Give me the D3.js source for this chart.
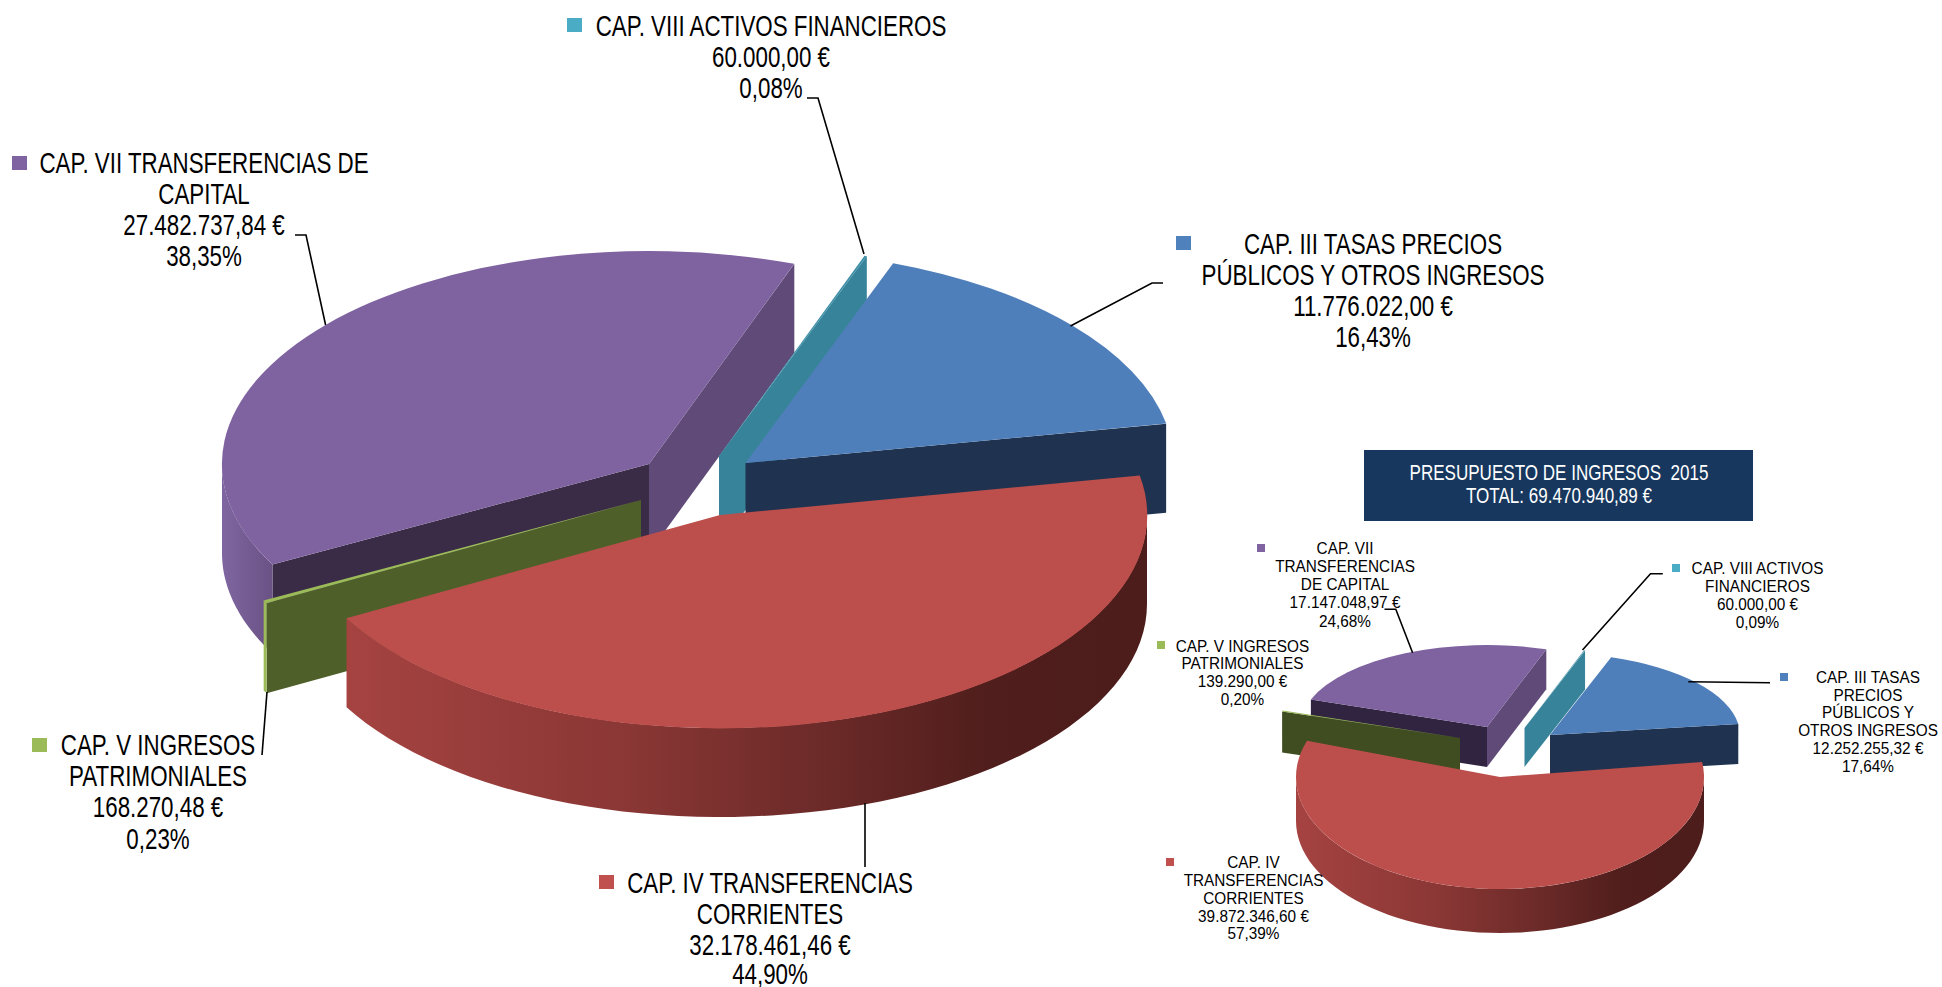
<!DOCTYPE html>
<html>
<head>
<meta charset="utf-8">
<script src="https://cdn.jsdelivr.net/npm/d3@7"></script>
<style>
  body { margin: 0; background: #fff; }
  svg { display: block; }
  text { font-family: "Liberation Sans", Arial, sans-serif; white-space: pre; }
</style>
</head>
<body>
<div id="chart"></div>
<script>
// data, in pie order (clockwise)
var chapters = ["III", "IV", "V", "VII", "VIII"];
var bigValues = [11776022.00, 32178461.46, 168270.48, 27482737.84, 60000.00];
var smallValues = [12252255.32, 39872346.60, 139290.00, 17147048.97, 60000.00];
var titleText = "PRESUPUESTO DE INGRESOS  2015";

// category text as wrapped in each of the two charts
var bigNames = [
  ["CAP. III TASAS PRECIOS", "PÚBLICOS Y OTROS INGRESOS"],
  ["CAP. IV TRANSFERENCIAS", "CORRIENTES"],
  ["CAP. V INGRESOS", "PATRIMONIALES"],
  ["CAP. VII TRANSFERENCIAS DE", "CAPITAL"],
  ["CAP. VIII ACTIVOS FINANCIEROS"]
];
var smallNames = [
  ["CAP. III TASAS", "PRECIOS", "PÚBLICOS Y", "OTROS INGRESOS"],
  ["CAP. IV", "TRANSFERENCIAS", "CORRIENTES"],
  ["CAP. V INGRESOS", "PATRIMONIALES"],
  ["CAP. VII", "TRANSFERENCIAS", "DE CAPITAL"],
  ["CAP. VIII ACTIVOS", "FINANCIEROS"]
];

// colours per chapter
var topColor = ["#4f7fba", "#bc4f4c", "#9bbb59", "#7f62a0", "#3f90a8"];
var markerColor = ["#4f81bd", "#c0504d", "#9bbb59", "#8064a2", "#4bacc6"];

var width = 1942, height = 987;
var svg = d3.select("#chart").append("svg")
  .attr("width", width)
  .attr("height", height);
var defs = svg.append("defs");

// spanish number format
var es = d3.formatLocale({decimal: ",", thousands: ".", grouping: [3], currency: ["", "€"]});
var money = es.format(",.2f");

function addGradient(id, stops) {
  var g = defs.append("linearGradient").attr("id", id);
  stops.forEach(function(s) {
    g.append("stop").attr("offset", s[0]).attr("stop-color", s[1]);
  });
}
addGradient("redWall", [[0, "#a54341"], [0.35, "#8a3735"], [0.6, "#6b2a28"], [0.8, "#501e1c"], [1, "#4c1d1b"]]);
addGradient("purpleWall", [[0, "#7f66a0"], [1, "#6a5285"]]);

// draw one pie out of exploded slices; each slice has its own ellipse
function drawPie(values, startDeg, shape, style) {
  var pie = d3.pie().sort(null).value(function(d) { return d; })
    .startAngle(startDeg * Math.PI / 180)
    .endAngle((startDeg + 360) * Math.PI / 180);
  var arcs = pie(values);
  var g = svg.append("g");
  var line = d3.line();

  // paint back to front: VII, V, VIII, III, IV
  [3, 2, 4, 0, 1].forEach(function(i) {
    var a = arcs[i], s = shape[i];
    var px = function(t) { return s.cx + s.rx * Math.sin(t); };
    var py = function(t) { return s.cy - s.ry * Math.cos(t); };

    // flat wall on a cut edge
    function wall(t, color) {
      if (!color) return;
      g.append("path")
        .attr("d", line([[s.cx, s.cy], [px(t), py(t)], [px(t), py(t) + s.depth], [s.cx, s.cy + s.depth]]) + "Z")
        .attr("fill", color);
    }
    wall(a.endAngle, style.endWall[i]);
    wall(a.startAngle, style.startWall[i]);

    // outer wall: only the front half of the ellipse can be seen
    [[Math.PI / 2, 3 * Math.PI / 2], [5 * Math.PI / 2, 7 * Math.PI / 2]].forEach(function(front) {
      var t0 = Math.max(a.startAngle, front[0]), t1 = Math.min(a.endAngle, front[1]);
      if (t1 <= t0) return;
      var ts = d3.range(0, 61).map(function(k) { return t0 + (t1 - t0) * k / 60; });
      var upper = ts.map(function(t) { return [px(t), py(t)]; });
      var lower = ts.slice().reverse().map(function(t) { return [px(t), py(t) + s.depth]; });
      g.append("path")
        .attr("d", line(upper.concat(lower)) + "Z")
        .attr("fill", style.outerWall[i]);
    });

    // top surface
    g.append("path")
      .attr("transform", "translate(" + s.cx + "," + s.cy + ") scale(" + s.rx + "," + s.ry + ")")
      .attr("d", d3.arc().innerRadius(0).outerRadius(1)(a))
      .attr("fill", topColor[i]);
  });
}

var navy = "#1f3350";
drawPie(bigValues, 20.2, [
  {cx: 745.5, cy: 463, rx: 428, ry: 213, depth: 89},
  {cx: 720, cy: 515, rx: 427, ry: 213, depth: 89},
  {cx: 641, cy: 500, rx: 428, ry: 213, depth: 90},
  {cx: 649, cy: 464, rx: 427, ry: 213, depth: 89},
  {cx: 719, cy: 456, rx: 428, ry: 213, depth: 90}
], {
  startWall: [null, null, "#4f5f2a", "#3a2b47", null],
  endWall: [navy, null, null, "#5f4a78", "#37849a"],
  outerWall: [navy, "url(#redWall)", "#9bbb59", "url(#purpleWall)", "#37849a"]
});

drawPie(smallValues, 18.8, [
  {cx: 1550, cy: 735, rx: 190, ry: 82, depth: 40},
  {cx: 1500, cy: 777, rx: 204, ry: 112, depth: 44},
  {cx: 1460, cy: 738, rx: 188, ry: 82, depth: 41},
  {cx: 1487, cy: 727, rx: 187, ry: 82, depth: 40},
  {cx: 1524.5, cy: 728, rx: 188, ry: 82, depth: 39}
], {
  startWall: [null, null, "#3f4d20", "#302440", null],
  endWall: [navy, null, null, "#5f4a78", "#37849a"],
  outerWall: [navy, "url(#redWall)", "#9bbb59", "url(#purpleWall)", "#37849a"]
});

// title box
svg.append("rect")
  .attr("x", 1364).attr("y", 450).attr("width", 389).attr("height", 71)
  .attr("fill", "#17375e");
drawLines(1559, [480, 503], [titleText, "TOTAL: " + money(d3.sum(smallValues)) + " €"],
  {size: 22, sx: 0.775, fill: "#fff"});

function drawLines(x, ys, lines, st) {
  lines.forEach(function(t, k) {
    svg.append("text")
      .attr("transform", "translate(" + x + "," + ys[k] + ") scale(" + st.sx + ",1)")
      .attr("text-anchor", "middle")
      .attr("font-size", st.size)
      .attr("fill", st.fill || "#000")
      .text(t);
  });
}

// labels: category lines + amount + percent
function drawLabels(values, names, pos, st) {
  var total = d3.sum(values);
  values.forEach(function(v, i) {
    var p = pos[i];
    var lines = names[i].concat([money(v) + " €", money(v / total * 100) + "%"]);
    drawLines(p.x, p.ys, lines, st);
    svg.append("rect")
      .attr("x", p.m[0]).attr("y", p.m[1])
      .attr("width", st.marker[0]).attr("height", st.marker[1])
      .attr("fill", markerColor[i]);
  });
}

drawLabels(bigValues, bigNames, [
  {x: 1373, ys: [254, 285, 316, 347], m: [1176, 236]},
  {x: 770, ys: [893, 924, 955, 984], m: [599, 875]},
  {x: 158, ys: [755, 786, 817, 849], m: [32, 738]},
  {x: 204, ys: [173, 204, 235, 266], m: [12, 156]},
  {x: 771, ys: [36, 67, 98], m: [567, 18]}
], {size: 29, sx: 0.77, marker: [15, 14]});

drawLabels(smallValues, smallNames, [
  {x: 1868, ys: [683, 701, 718, 736, 754, 772], m: [1780, 673]},
  {x: 1253.5, ys: [868, 886, 904, 922, 939], m: [1166, 858]},
  {x: 1242.5, ys: [652, 669, 687, 705], m: [1157, 641]},
  {x: 1345, ys: [554, 572, 590, 608, 627], m: [1257, 544]},
  {x: 1757.5, ys: [574, 592, 610, 628], m: [1672, 564]}
], {size: 16.5, sx: 0.93, marker: [8, 8]});

// leader lines
var leaders = [
  [[807, 98], [818, 98], [864, 254]],
  [[295, 235], [306, 235], [325.6, 325]],
  [[1163, 283], [1152, 283], [1070.5, 326]],
  [[267, 692], [262, 755]],
  [[865, 803], [865, 867]],
  [[1384.5, 609.3], [1395.8, 609.3], [1412.6, 652.7]],
  [[1662.8, 573.7], [1650.5, 573.7], [1582.5, 650]],
  [[1770, 682.7], [1688.3, 681.7]]
];
svg.append("g").selectAll("path")
  .data(leaders)
  .enter()
  .append("path")
    .attr("d", d3.line())
    .attr("fill", "none")
    .attr("stroke", "#000")
    .attr("stroke-width", 1.6);
</script>
</body>
</html>
